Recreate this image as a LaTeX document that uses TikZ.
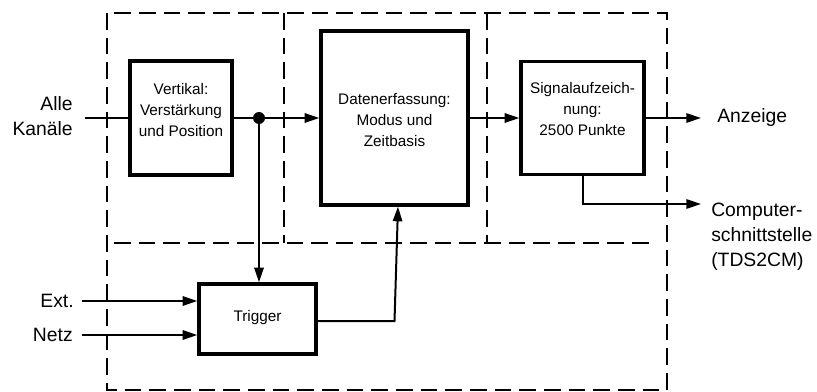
\documentclass[tikz,border=0pt]{standalone}
\usepackage{fontspec}
\setmainfont{Liberation Sans}
\usetikzlibrary{arrows.meta}
\begin{document}
\begin{tikzpicture}[x=0.75pt,y=-0.75pt,
  blk/.style={draw,line width=2.5pt,inner sep=0pt},
  boxtxt/.style={align=center,font=\fontsize{11.5}{15.5}\selectfont,inner sep=0pt},
  lbl/.style={font=\fontsize{14.5}{19}\selectfont,inner sep=0pt},
  wire/.style={line width=1.5pt},
  arr/.style={wire,-{Triangle[length=11pt,width=7pt]}},
  dsh/.style={line width=1.6pt,dash pattern=on 12.5pt off 6pt}]
\useasboundingbox (0,0) rectangle (817,392);
% dashed frames
\draw[dsh] (107,13) rectangle (667,390);
\draw[dsh] (114,243) -- (652,243);
\draw[dsh] (284,13) -- (284,243);
\draw[dsh] (487,13) -- (487,243);
% blocks
\node[blk,minimum width=76.5pt,minimum height=85.5pt] (vert) at (181,118) {};
\node[boxtxt] (vertt) at (181,110) {Vertikal:\\Verstärkung\\und Position};
\node[blk,minimum width=110.25pt,minimum height=130.5pt] (dat) at (394.5,118) {};
\node[boxtxt] (datt) at (394.5,120) {Datenerfassung:\\Modus und\\Zeitbasis};
\node[blk,minimum width=92.25pt,minimum height=84.75pt] (sig) at (582.5,118) {};
\node[boxtxt] (sigt) at (582.5,109) {Signalaufzeich-\\nung:\\2500 Punkte};
\node[blk,minimum width=87.75pt,minimum height=52.5pt] (trig) at (257.5,319) {};
\node[boxtxt] (trigt) at (257.5,318) {Trigger};
% labels
\node[lbl,anchor=east,align=right] (alle) at (73,116) {Alle\\Kanäle};
\node[lbl,anchor=east] (ext) at (74,301) {Ext.};
\node[lbl,anchor=east] (netz) at (73,335) {Netz};
\node[lbl,anchor=west] (anz) at (717,118) {Anzeige};
\node[lbl,anchor=west,align=left,font=\fontsize{14.5}{18.75}\selectfont] (comp) at (711,237) {Computer-\\schnittstelle\\(TDS2CM)};
% coordinates
\coordinate (inA) at (85,118);
\coordinate (inE) at (82,301);
\coordinate (inN) at (82,335);
\coordinate (outA) at (701,118);
\coordinate (outC) at (701,204);
\coordinate (tr) at (398,321);
\node[circle,fill,inner sep=0pt,minimum size=9pt] (dot) at (259,118) {};
% connectors
\draw[wire] (inA) -- (vert.west);
\draw[arr] (vert.east) -- (dat.west);
\draw[arr] (dot.center) -- (dot.center |- trig.north);
\draw[arr] (dat.east) -- (sig.west);
\draw[arr] (sig.east) -- (outA);
\draw[arr] (sig.south) |- (outC);
\draw[arr] (trig.east |- tr) -| (tr -| dat.south) -- (tr |- dat.south);
\draw[arr] (inE) -- (inE -| trig.west);
\draw[arr] (inN) -- (inN -| trig.west);
\end{tikzpicture}
\end{document}
